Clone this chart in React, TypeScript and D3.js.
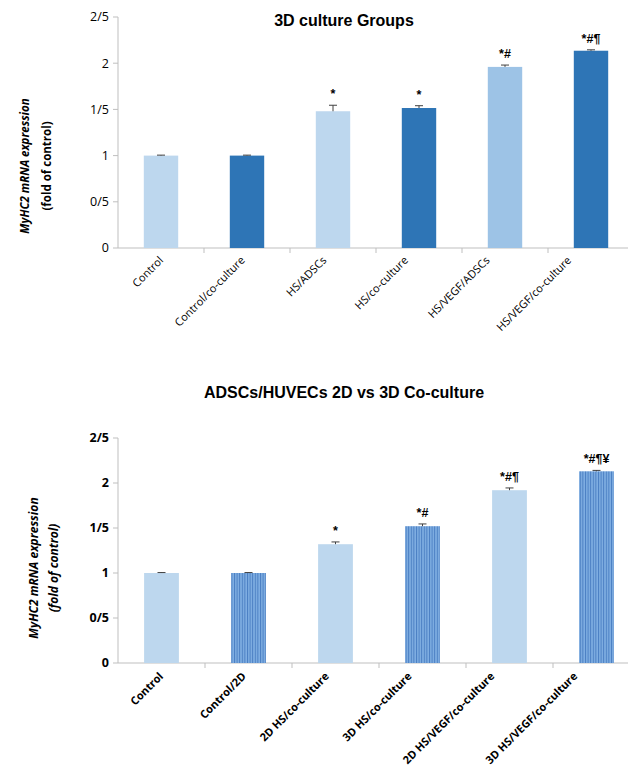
import React from "react";
import * as d3 from "d3";

const topCategories = ["Control", "Control/co-culture", "HS/ADSCs", "HS/co-culture", "HS/VEGF/ADSCs", "HS/VEGF/co-culture"];
const topValues = [1.0, 1.0, 1.48, 1.515, 1.96, 2.135];
const topErrors = [0.005, 0.005, 0.065, 0.025, 0.02, 0.01];
const topMarks = ["", "", "*", "*", "*#", "*#¶"];
const topColors = ["#BDD7EE", "#2E75B6", "#BDD7EE", "#2E75B6", "#9DC3E6", "#2E75B6"];

const botCategories = ["Control", "Control/2D", "2D HS/co-culture", "3D HS/co-culture", "2D HS/VEGF/co-culture", "3D HS/VEGF/co-culture"];
const botValues = [1.0, 1.0, 1.32, 1.52, 1.92, 2.13];
const botErrors = [0.005, 0.005, 0.025, 0.025, 0.025, 0.01];
const botMarks = ["", "", "*", "*#", "*#¶", "*#¶¥"];
const botStriped = [false, true, false, true, false, true];

const yTicks = [0, 0.5, 1, 1.5, 2, 2.5];
const yTickLabels = ["0", "0/5", "1", "1/5", "2", "2/5"];

type ChartProps = {
  title: string;
  titleY: number;
  cats: string[];
  vals: number[];
  errs: number[];
  marks: string[];
  fill: (i: number) => string;
  xLeft: number;
  xRight: number;
  yBottom: number;
  yTop: number;
  bold: boolean;
  labelX1: number;
  labelX2: number;
  labelY: number;
  italicBoth: boolean;
  labelDy: number;
  labelRange: [number, number];
  axisFont: number;
  yLabelFont: number;
  catFont: number;
};

function Chart(p: ChartProps) {
  const x = d3.scaleBand<string>().domain(p.cats).range([p.xLeft, p.xRight]).paddingInner(0.6).paddingOuter(0.3);
  const lx = d3.scalePoint<string>().domain(p.cats).range(p.labelRange);
  const step = x.step();
  const y = d3.scaleLinear().domain([0, 2.5]).range([p.yBottom, p.yTop]);
  const tickFont = p.bold ? 700 : 400;
  return (
    <g>
      <text x={344} y={p.titleY} textAnchor="middle" fontFamily="Liberation Sans, Arial" fontWeight={700} fontSize={16}>{p.title}</text>
      <text transform={`translate(${p.labelX1},${p.labelY}) rotate(-90)`} textAnchor="middle" fontFamily="Open Sans, sans-serif" fontWeight={700} fontStyle="italic" fontSize={p.yLabelFont}>MyHC2 mRNA expression</text>
      <text transform={`translate(${p.labelX2},${p.labelY}) rotate(-90)`} textAnchor="middle" fontFamily="Open Sans, sans-serif" fontWeight={700} fontStyle={p.italicBoth ? "italic" : "normal"} fontSize={p.yLabelFont}>(fold of control)</text>
      <line x1={p.xLeft} x2={p.xLeft} y1={p.yTop} y2={p.yBottom} stroke="#BFBFBF" strokeWidth={1} />
      {yTicks.map((t, i) => (
        <g key={i}>
          <line x1={p.xLeft - 5} x2={p.xLeft} y1={y(t)} y2={y(t)} stroke="#BFBFBF" />
          <text x={p.xLeft - 9} y={y(t)} dy="0.35em" textAnchor="end" fontFamily="Open Sans, sans-serif" fontWeight={tickFont} fontSize={p.axisFont}>{yTickLabels[i]}</text>
        </g>
      ))}
      <line x1={p.xLeft} x2={p.xRight} y1={p.yBottom} y2={p.yBottom} stroke="#BFBFBF" />
      {p.cats.map((c, i) => (
        <line key={c} x1={p.xLeft + step * (i + 1)} x2={p.xLeft + step * (i + 1)} y1={p.yBottom} y2={p.yBottom + 5} stroke="#BFBFBF" />
      ))}
      {p.cats.map((c, i) => {
        const bx = x(c)!;
        const bw = x.bandwidth();
        const cx = bx + bw / 2;
        const top = y(p.vals[i]);
        const et = y(p.vals[i] + p.errs[i]);
        return (
          <g key={c}>
            <rect x={bx} y={top} width={bw} height={p.yBottom - top} fill={p.fill(i)} />
            <line x1={cx} x2={cx} y1={top} y2={et} stroke="#404040" strokeWidth={1} />
            <line x1={cx - 4} x2={cx + 4} y1={et} y2={et} stroke="#404040" strokeWidth={1} />
            {p.marks[i] && (
              <text x={cx} y={et - 7} textAnchor="middle" fontFamily="Liberation Sans, Arial" fontWeight={700} fontSize={12.5}>{p.marks[i]}</text>
            )}
            <text transform={`translate(${lx(c)},${p.yBottom + p.labelDy}) rotate(-45)`} textAnchor="end" fontFamily="Open Sans, sans-serif" fontWeight={tickFont} fontSize={p.catFont}>{c}</text>
          </g>
        );
      })}
    </g>
  );
}

export default function App() {
  return (
    <svg width={628} height={768} style={{ position: "absolute", left: 0, top: 0, background: "#fff" }}>
      <defs>
        <pattern id="stripes" patternUnits="userSpaceOnUse" width={2.6} height={10}>
          <rect x={0} y={0} width={2.6} height={10} fill="#7FAEE2" />
          <rect x={0} y={0} width={1} height={10} fill="#4A7EC2" />
        </pattern>
      </defs>
      <Chart
        title="3D culture Groups"
        titleY={26}
        cats={topCategories}
        vals={topValues}
        errs={topErrors}
        marks={topMarks}
        fill={(i) => topColors[i]}
        xLeft={118}
        xRight={634}
        yBottom={248}
        yTop={17}
        bold={false}
        labelX1={29}
        labelX2={51}
        labelY={166}
        italicBoth={false}
        labelDy={13}
        labelRange={[164, 572]}
        axisFont={12.5}
        yLabelFont={11.5}
        catFont={11}
      />
      <Chart
        title="ADSCs/HUVECs 2D vs 3D Co-culture"
        titleY={398}
        cats={botCategories}
        vals={botValues}
        errs={botErrors}
        marks={botMarks}
        fill={(i) => (botStriped[i] ? "url(#stripes)" : "#BDD7EE")}
        xLeft={118}
        xRight={640}
        yBottom={663}
        yTop={438}
        bold={true}
        labelX1={38}
        labelX2={58}
        labelY={568}
        italicBoth={true}
        labelDy={14}
        labelRange={[164, 578]}
        axisFont={12.5}
        yLabelFont={12}
        catFont={11}
      />
    </svg>
  );
}
